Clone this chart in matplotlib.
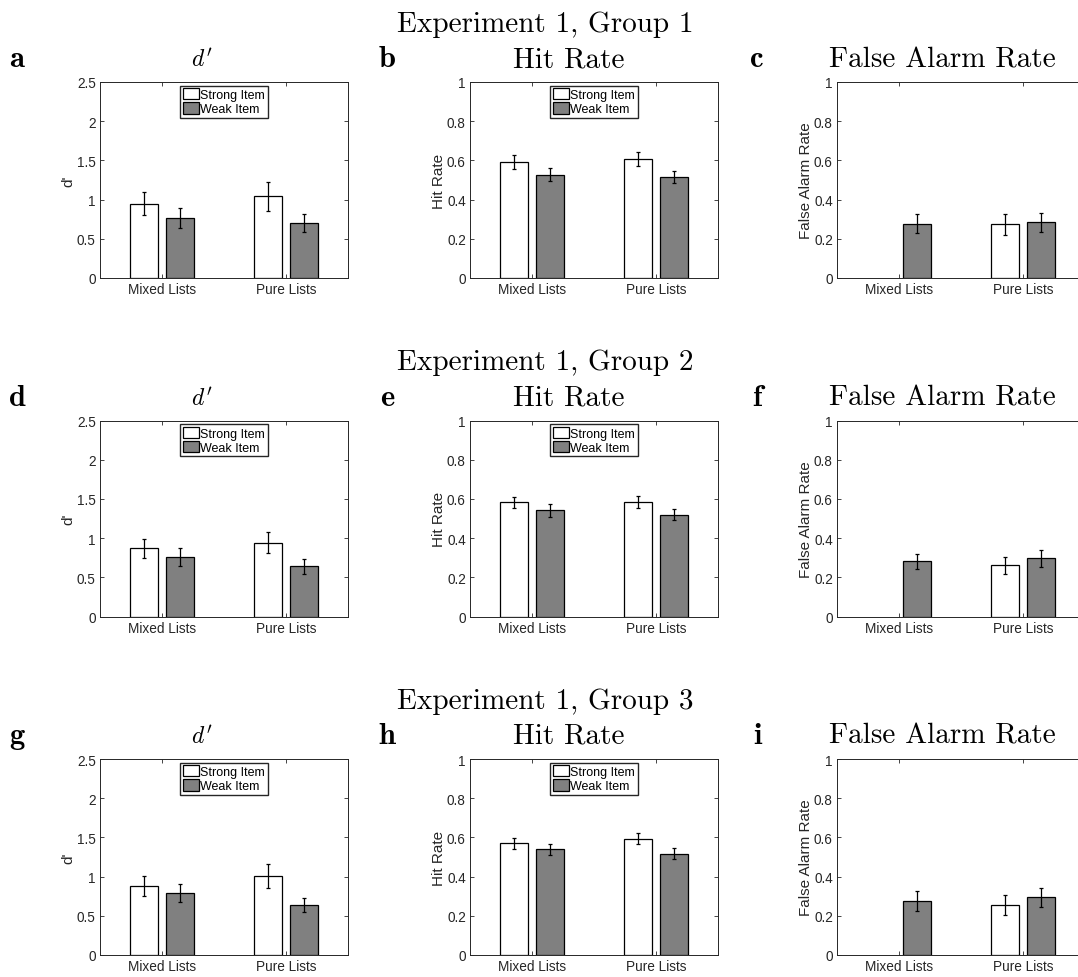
import numpy as np
import matplotlib
matplotlib.use("Agg")
import matplotlib.pyplot as plt

plt.rcParams['font.family'] = ['Liberation Sans', 'DejaVu Sans']
plt.rcParams['mathtext.fontset'] = 'cm'

nan = np.nan

groups = ['Experiment 1, Group 1', 'Experiment 1, Group 2', 'Experiment 1, Group 3']
conditions = ['Mixed Lists', 'Pure Lists']
series = ['Strong Item', 'Weak Item']
panel_letters = ['a', 'b', 'c', 'd', 'e', 'f', 'g', 'h', 'i']

# rows = groups, columns = (Mixed, Pure)
dprime_strong = [[0.95, 1.04], [0.87, 0.94], [0.88, 1.01]]
dprime_strong_err = [[0.145, 0.185], [0.123, 0.136], [0.123, 0.151]]
dprime_weak = [[0.76, 0.70], [0.76, 0.64], [0.79, 0.64]]
dprime_weak_err = [[0.128, 0.115], [0.115, 0.094], [0.11, 0.092]]

hit_strong = [[0.593, 0.607], [0.582, 0.583], [0.570, 0.594]]
hit_strong_err = [[0.035, 0.034], [0.029, 0.030], [0.029, 0.030]]
hit_weak = [[0.527, 0.515], [0.541, 0.520], [0.539, 0.517]]
hit_weak_err = [[0.034, 0.030], [0.031, 0.026], [0.029, 0.027]]

fa_strong = [[nan, 0.274], [nan, 0.262], [nan, 0.257]]
fa_strong_err = [[nan, 0.055], [nan, 0.044], [nan, 0.051]]
fa_weak = [[0.277, 0.284], [0.281, 0.296], [0.274, 0.294]]
fa_weak_err = [[0.049, 0.050], [0.039, 0.041], [0.050, 0.047]]

measures = [
    # title, ylabel, ylim, yticks, strong, strong err, weak, weak err, legend
    (r"$d'$", "d'", 2.5, np.arange(0, 2.51, 0.5), dprime_strong, dprime_strong_err, dprime_weak, dprime_weak_err, True),
    ('Hit Rate', 'Hit Rate', 1, np.arange(0, 1.01, 0.2), hit_strong, hit_strong_err, hit_weak, hit_weak_err, True),
    ('False Alarm Rate', 'False Alarm Rate', 1, np.arange(0, 1.01, 0.2), fa_strong, fa_strong_err, fa_weak, fa_weak_err, False),
]

W, H = 1078, 978
fig = plt.figure(figsize=(W / 100, H / 100), dpi=100)

ax_left = [100, 470, 837]
ax_top = [83, 421.5, 760]
ax_w, ax_h = 248, 196
title_dx = [102, 99, 105]
label_x = [17, 387, 757]
dark = '#262626'

x = np.array([1, 2])
off = 0.1428
bw = 0.2286

for r in range(3):
    fig.text(545 / W, 1 - (ax_top[r] - 51) / H, groups[r], family='cmr10',
             ha='center', va='baseline', fontsize=21)
    for c in range(3):
        title, ylab, ymax, yt, s, se, w, we, leg = measures[c]
        ax = fig.add_axes([ax_left[c] / W, 1 - (ax_top[r] + ax_h) / H, ax_w / W, ax_h / H])
        ax.bar(x - off, s[r], bw, color='white', edgecolor='black', linewidth=0.9, label=series[0])
        ax.bar(x + off, w[r], bw, color='#808080', edgecolor='black', linewidth=0.9, label=series[1])
        ax.errorbar(x - off, s[r], yerr=se[r], fmt='none', ecolor='black', elinewidth=0.9, capsize=1.6, capthick=0.9)
        ax.errorbar(x + off, w[r], yerr=we[r], fmt='none', ecolor='black', elinewidth=0.9, capsize=1.6, capthick=0.9)
        ax.set_xlim(0.5, 2.5)
        ax.set_ylim(0, ymax)
        ax.set_xticks(x)
        ax.set_xticklabels(conditions)
        ax.set_yticks(yt)
        ax.set_yticklabels(['%g' % v for v in yt])
        ax.set_ylabel(ylab, fontsize=11, color=dark, labelpad=1)
        ax.tick_params(direction='in', top=True, right=True, length=3, width=0.6,
                       labelsize=9.8, colors=dark, labelcolor=dark, pad=3)
        for sp in ax.spines.values():
            sp.set_color(dark)
            sp.set_linewidth(0.7)
        if leg:
            ax.legend(loc='upper center', fontsize=9, frameon=True, fancybox=False,
                      edgecolor=dark, framealpha=1, borderpad=0.2, labelspacing=0.1,
                      handlelength=1.3, handleheight=1.0, handletextpad=0.1,
                      borderaxespad=0.3)
        if title.startswith('$'):
            fig.text((ax_left[c] + title_dx[c]) / W, 1 - (ax_top[r] - 16) / H, title,
                     ha='center', va='baseline', fontsize=17)
        else:
            fig.text((ax_left[c] + title_dx[c]) / W, 1 - (ax_top[r] - 16) / H, title,
                     family='cmr10', ha='center', va='baseline', fontsize=21)
        fig.text(label_x[c] / W, 1 - (ax_top[r] - 16) / H, panel_letters[r * 3 + c],
                 family='cmb10', ha='center', va='baseline', fontsize=22)

fig.savefig('out.png', dpi=100)
